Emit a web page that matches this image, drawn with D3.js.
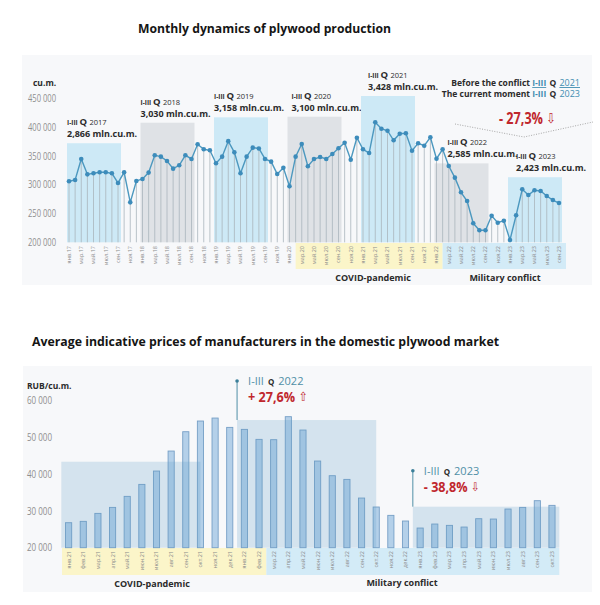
<!DOCTYPE html>
<html>
<head>
<meta charset="utf-8">
<script src="https://cdn.jsdelivr.net/npm/d3@7"></script>
<style>
  body { margin: 0; background: #fff; }
  text { font-family: "Open Sans", "DejaVu Sans", sans-serif; }
</style>
</head>
<body>
<svg id="chart" width="600" height="605"></svg>
<script>
// ---- data ----
var monthNames = ["янв", "фев", "мар", "апр", "май", "июн", "июл", "авг", "сен", "окт", "ноя", "дек"];
var prodYears = ["17", "18", "19", "20", "21", "22", "23"];

var production = [
  305900, 308200, 344700, 318000, 319800, 321500, 321500, 319800, 303000, 321500, 269400, 306500,
  310000, 321000, 351000, 348700, 341200, 327900, 333700, 351000, 344700, 370100, 361500, 359700,
  337200, 348700, 375600, 356200, 319800, 348700, 364300, 362900, 344700, 340000, 318600, 329300,
  297200, 348700, 370600, 332000, 344600, 348000, 344600, 353300, 363200, 372900, 343400, 381600,
  361500, 355000, 408300, 397200, 393700, 377100, 388500, 389200, 359000, 371900, 367700, 382300,
  345100, 361500, 332400, 312200, 286800, 271700, 233000, 220800, 220800, 246200, 234000, 237500,
  204000, 246900, 292000, 282100, 290300, 289100, 280400, 273400, 268200
];

// I-III quarter blocks of the production chart
var quarterYears = ["2017", "2018", "2019", "2020", "2021", "2022", "2023"];
var quarterTotals = ["2,866", "3,030", "3,158", "3,100", "3,428", "2,585", "2,423"];
var quarterLevel = [372000, 407600, 417000, 418000, 454000, 337000, 313000];
var quarterColor = ["blue", "gray", "blue", "gray", "blue", "gray", "blue"];
var quarterLabelShift = [0, 0, 0, 4, 7, 13, 8];

var prodTicks = [200000, 250000, 300000, 350000, 400000, 450000];

var priceLabels = [
  "янв.21", "фев.21", "мар.21", "апр.21", "май.21", "июн.21", "июл.21", "авг.21", "сен.21", "окт.21", "ноя.21", "дек.21",
  "янв.22", "фев.22", "мар.22", "апр.22", "май.22", "июн.22", "июл.22", "авг.22", "сен.22", "окт.22", "ноя.22", "дек.22",
  "янв.23", "фев.23", "мар.23", "апр.23", "май.23", "июн.23", "июл.23", "авг.23", "сен.23", "окт.23"
];
var prices = [
  26800, 27170, 29340, 30970, 33970, 37230, 40860, 46300, 51560, 54470, 55280, 52740,
  52200, 49480, 49390, 55650, 52020, 43580, 39590, 38590, 33510, 31070, 28800, 27260,
  25350, 26440, 26080, 25620, 27890, 27800, 30520, 30970, 32790, 31520
];
var priceTicks = [20000, 30000, 40000, 50000, 60000];

// average price blocks: [first bar, last bar], level
var priceBlockFrom = [-0.5, 11.5, 23.5];
var priceBlockTo = [9, 21, 33.5];
var priceBlockLevel = [43400, 54740, 31160];

// ---- helpers ----
var svg = d3.select("#chart");
var prodLabels = [];
prodYears.forEach(function (y) {
  monthNames.forEach(function (m) { prodLabels.push(m + "." + y); });
});
prodLabels = prodLabels.slice(0, production.length);

var teal = "#3f8db0";
var dark = "#2b2b2b";
var red = "#c0272d";
var narrow = "'Roboto', sans-serif";

// red change figure with its hollow arrow, squeezed a bit like a narrow face
function changeText(g, tx, ty, fs, pct, arrow, sx) {
  var t = g.append("text").attr("transform", "translate(" + tx + "," + ty + ") scale(" + sx + ",1)")
    .attr("font-family", narrow).attr("font-size", fs).attr("font-weight", "bold").attr("fill", red);
  t.append("tspan").text(pct + " ");
  t.append("tspan").attr("font-family", "DejaVu Sans").attr("font-weight", "normal")
    .attr("font-size", fs - 2).attr("dy", -1).text(arrow);
  return t;
}

// background panels
svg.append("rect").attr("x", 22).attr("y", 55).attr("width", 570).attr("height", 230).attr("fill", "#f7f8fa");
svg.append("rect").attr("x", 23).attr("y", 366).attr("width", 569).attr("height", 226).attr("fill", "#f7f8fa");

// ================= top chart =================
svg.append("text").attr("x", 138).attr("y", 33)
  .attr("font-size", 13).attr("font-weight", "bold").attr("fill", "#151515")
  .attr("textLength", 253).attr("lengthAdjust", "spacingAndGlyphs")
  .text("Monthly dynamics of plywood production");

var x = d3.scaleLinear().domain([0, production.length - 1]).range([69, 559]);
var y = d3.scaleLinear().domain([200000, 450000]).range([242.3, 98.3]);

var gTop = svg.append("g");

// quarter blocks
quarterYears.forEach(function (yr, k) {
  var x0 = x(k * 12) - 2, x1 = x(k * 12 + 8) + 3;
  gTop.append("rect")
    .attr("x", x0).attr("y", y(quarterLevel[k]))
    .attr("width", x1 - x0).attr("height", y(200000) - y(quarterLevel[k]))
    .attr("fill", quarterColor[k] == "blue" ? "#cde9f6" : "#dfe2e6");

  var lx = x0 + quarterLabelShift[k];
  var t1 = gTop.append("text").attr("x", lx).attr("y", y(quarterLevel[k]) - 18).attr("fill", dark).attr("font-weight", "bold");
  t1.append("tspan").attr("font-size", 6.5).text("I-III ");
  t1.append("tspan").attr("font-size", 9.5).text("Q ");
  t1.append("tspan").attr("font-size", 7.5).attr("font-weight", "normal").text(yr);

  gTop.append("text").attr("x", lx).attr("y", y(quarterLevel[k]) - 6)
    .attr("fill", dark).attr("font-weight", "bold").attr("font-size", 9)
    .text(quarterTotals[k] + " mln.cu.m.");
});

// period bands under the axis
gTop.append("rect").attr("x", x(37)).attr("y", 243).attr("width", x(61) - x(37)).attr("height", 26).attr("fill", "#fbf5c9");
gTop.append("rect").attr("x", x(61)).attr("y", 243).attr("width", x(80) + 7 - x(61)).attr("height", 26).attr("fill", "#d3ebf7");

// drop lines
gTop.selectAll(".drop").data(production).enter().append("line")
  .attr("x1", function (d, i) { return x(i); }).attr("x2", function (d, i) { return x(i); })
  .attr("y1", function (d) { return y(d); }).attr("y2", y(200000))
  .attr("stroke", "#a9b5bd").attr("stroke-width", 0.8);

// line + points
gTop.append("path").datum(production)
  .attr("d", d3.line().x(function (d, i) { return x(i); }).y(function (d) { return y(d); }))
  .attr("fill", "none").attr("stroke", "#4c98bf").attr("stroke-width", 1.4);
gTop.selectAll(".pt").data(production).enter().append("circle")
  .attr("cx", function (d, i) { return x(i); }).attr("cy", function (d) { return y(d); })
  .attr("r", 2.3).attr("fill", "#3d8cbb");

// y axis
var yAxis = d3.axisLeft(y).tickValues(prodTicks).tickSize(0).tickPadding(0)
  .tickFormat(function (d) { return d3.format(",")(d).replace(/,/g, " "); });
var ya = gTop.append("g").attr("transform", "translate(56,0)").call(yAxis);
ya.select(".domain").remove();
ya.selectAll("text").attr("font-family", narrow).attr("font-size", 10).attr("fill", "#8f8f8f")
  .attr("textLength", 28).attr("lengthAdjust", "spacingAndGlyphs");
gTop.append("text").attr("x", 33).attr("y", 86).attr("font-size", 8.5).attr("font-weight", "bold").attr("fill", dark).text("cu.m.");

// x labels (every other month)
gTop.selectAll(".xl").data(prodLabels.filter(function (d, i) { return i % 2 == 0; })).enter()
  .append("text")
  .attr("transform", function (d, i) { return "translate(" + x(i * 2) + ",246) rotate(-90)"; })
  .attr("text-anchor", "end").attr("dy", "0.35em")
  .attr("font-size", 5.5).attr("fill", "#8a8a8a")
  .text(function (d) { return d; });

gTop.append("text").attr("x", 373).attr("y", 281).attr("text-anchor", "middle")
  .attr("font-size", 9).attr("font-weight", "bold").attr("fill", dark).text("COVID-pandemic");
gTop.append("text").attr("x", 505).attr("y", 281).attr("text-anchor", "middle")
  .attr("font-size", 9).attr("font-weight", "bold").attr("fill", dark).text("Military conflict");

// comparison note
gTop.append("path").attr("d", "M455,124 L524,137 L593,122").attr("fill", "none")
  .attr("stroke", "#a8a8a8").attr("stroke-width", 1).attr("stroke-dasharray", "1,1.5");

var n1 = gTop.append("text").attr("x", 580).attr("y", 86).attr("text-anchor", "end")
  .attr("font-size", 8.5).attr("font-weight", "bold").attr("fill", dark);
n1.append("tspan").text("Before the conflict ");
n1.append("tspan").attr("fill", teal).attr("text-decoration", "underline").text("I-III");
n1.append("tspan").attr("dx", 1).text(" Q ");
n1.append("tspan").attr("dx", 1).attr("fill", teal).attr("font-weight", "normal").attr("font-size", 9).attr("text-decoration", "underline").text("2021");
var n2 = gTop.append("text").attr("x", 580).attr("y", 97).attr("text-anchor", "end")
  .attr("font-size", 8.5).attr("font-weight", "bold").attr("fill", dark);
n2.append("tspan").text("The current moment ");
n2.append("tspan").attr("fill", teal).text("I-III");
n2.append("tspan").attr("dx", 1).text(" Q ");
n2.append("tspan").attr("dx", 1).attr("fill", teal).attr("font-weight", "normal").attr("font-size", 9).text("2023");
changeText(gTop, 499, 124, 16, "- 27,3%", "⇩", 0.79);

// ================= bottom chart =================
svg.append("text").attr("x", 32).attr("y", 346)
  .attr("font-size", 13).attr("font-weight", "bold").attr("fill", "#151515")
  .attr("textLength", 467).attr("lengthAdjust", "spacingAndGlyphs")
  .text("Average indicative prices of manufacturers in the domestic plywood market");

var xb = d3.scaleBand().domain(priceLabels).range([61.3, 559.3]).paddingInner(0.58).paddingOuter(0.29);
var yb = d3.scaleLinear().domain([20000, 60000]).range([547.7, 400.7]);
var bstep = xb.step();
function cx(i) { return xb(priceLabels[0]) + xb.bandwidth() / 2 + i * bstep; }

var gBot = svg.append("g");

// bands under the axis
gBot.append("rect").attr("x", 62).attr("y", 548).attr("width", cx(13) + bstep / 2 - 62).attr("height", 27).attr("fill", "#fbf5c9");
gBot.append("rect").attr("x", cx(13) + bstep / 2).attr("y", 548).attr("width", cx(33) - cx(13)).attr("height", 27).attr("fill", "#d3ebf7");

// bars
gBot.selectAll(".bar").data(prices).enter().append("rect")
  .attr("x", function (d, i) { return xb(priceLabels[i]); })
  .attr("y", function (d) { return yb(d); })
  .attr("width", xb.bandwidth())
  .attr("height", function (d) { return yb(20000) - yb(d); })
  .attr("fill", "#b4d0e9").attr("stroke", "#769fc6").attr("stroke-width", 0.9);

// average blocks over the bars
priceBlockLevel.forEach(function (lv, k) {
  var x0 = cx(priceBlockFrom[k]), x1 = cx(priceBlockTo[k]);
  gBot.append("rect").attr("x", x0).attr("y", yb(lv))
    .attr("width", x1 - x0).attr("height", yb(20000) - yb(lv))
    .attr("fill", "#5b9cc4").attr("fill-opacity", 0.22);
});

// y axis
var ybAxis = d3.axisLeft(yb).tickValues(priceTicks).tickSize(0).tickPadding(0)
  .tickFormat(function (d) { return d3.format(",")(d).replace(/,/g, " "); });
var yba = gBot.append("g").attr("transform", "translate(52,0)").call(ybAxis);
yba.select(".domain").remove();
yba.selectAll("text").attr("font-family", narrow).attr("font-size", 10).attr("fill", "#8f8f8f")
  .attr("textLength", 25).attr("lengthAdjust", "spacingAndGlyphs");
gBot.append("text").attr("x", 27).attr("y", 389).attr("font-size", 8.5).attr("font-weight", "bold").attr("fill", dark).text("RUB/cu.m.");

// x labels
gBot.selectAll(".xl").data(priceLabels).enter().append("text")
  .attr("transform", function (d, i) { return "translate(" + cx(i) + ",551) rotate(-90)"; })
  .attr("text-anchor", "end").attr("dy", "0.35em")
  .attr("font-size", 5.5).attr("fill", "#8a8a8a")
  .text(function (d) { return d; });

gBot.append("text").attr("x", 152).attr("y", 587).attr("text-anchor", "middle")
  .attr("font-size", 9).attr("font-weight", "bold").attr("fill", dark).text("COVID-pandemic");
gBot.append("text").attr("x", 402).attr("y", 586).attr("text-anchor", "middle")
  .attr("font-size", 9).attr("font-weight", "bold").attr("fill", dark).text("Military conflict");

// change markers
function marker(k, dotUp, year, pct, arrow, fs, sx) {
  var mx = cx(priceBlockFrom[k]);
  var ty = yb(priceBlockLevel[k]);
  var dy = ty - dotUp;
  gBot.append("line").attr("x1", mx).attr("x2", mx).attr("y1", dy).attr("y2", ty)
    .attr("stroke", "#4f8fa6").attr("stroke-width", 1);
  gBot.append("circle").attr("cx", mx).attr("cy", dy).attr("r", 1.8).attr("fill", "#3b7f99");
  var t = gBot.append("text").attr("x", mx + 11).attr("y", dy + 4).attr("font-family", narrow).attr("font-size", 11);
  t.append("tspan").attr("fill", "#4f8fa6").text("I-III");
  t.append("tspan").attr("dx", 4).attr("fill", dark).attr("font-weight", "bold").attr("font-size", 8).text("Q");
  t.append("tspan").attr("dx", 4).attr("fill", "#4f8fa6").text(year);
  changeText(gBot, mx + 11, dy + 21, fs, pct, arrow, sx);
}
marker(1, 39, "2022", "+ 27,6%", "⇧", 14.5, 0.87);
marker(2, 36, "2023", "- 38,8%", "⇩", 14, 0.9);
</script>
</body>
</html>
